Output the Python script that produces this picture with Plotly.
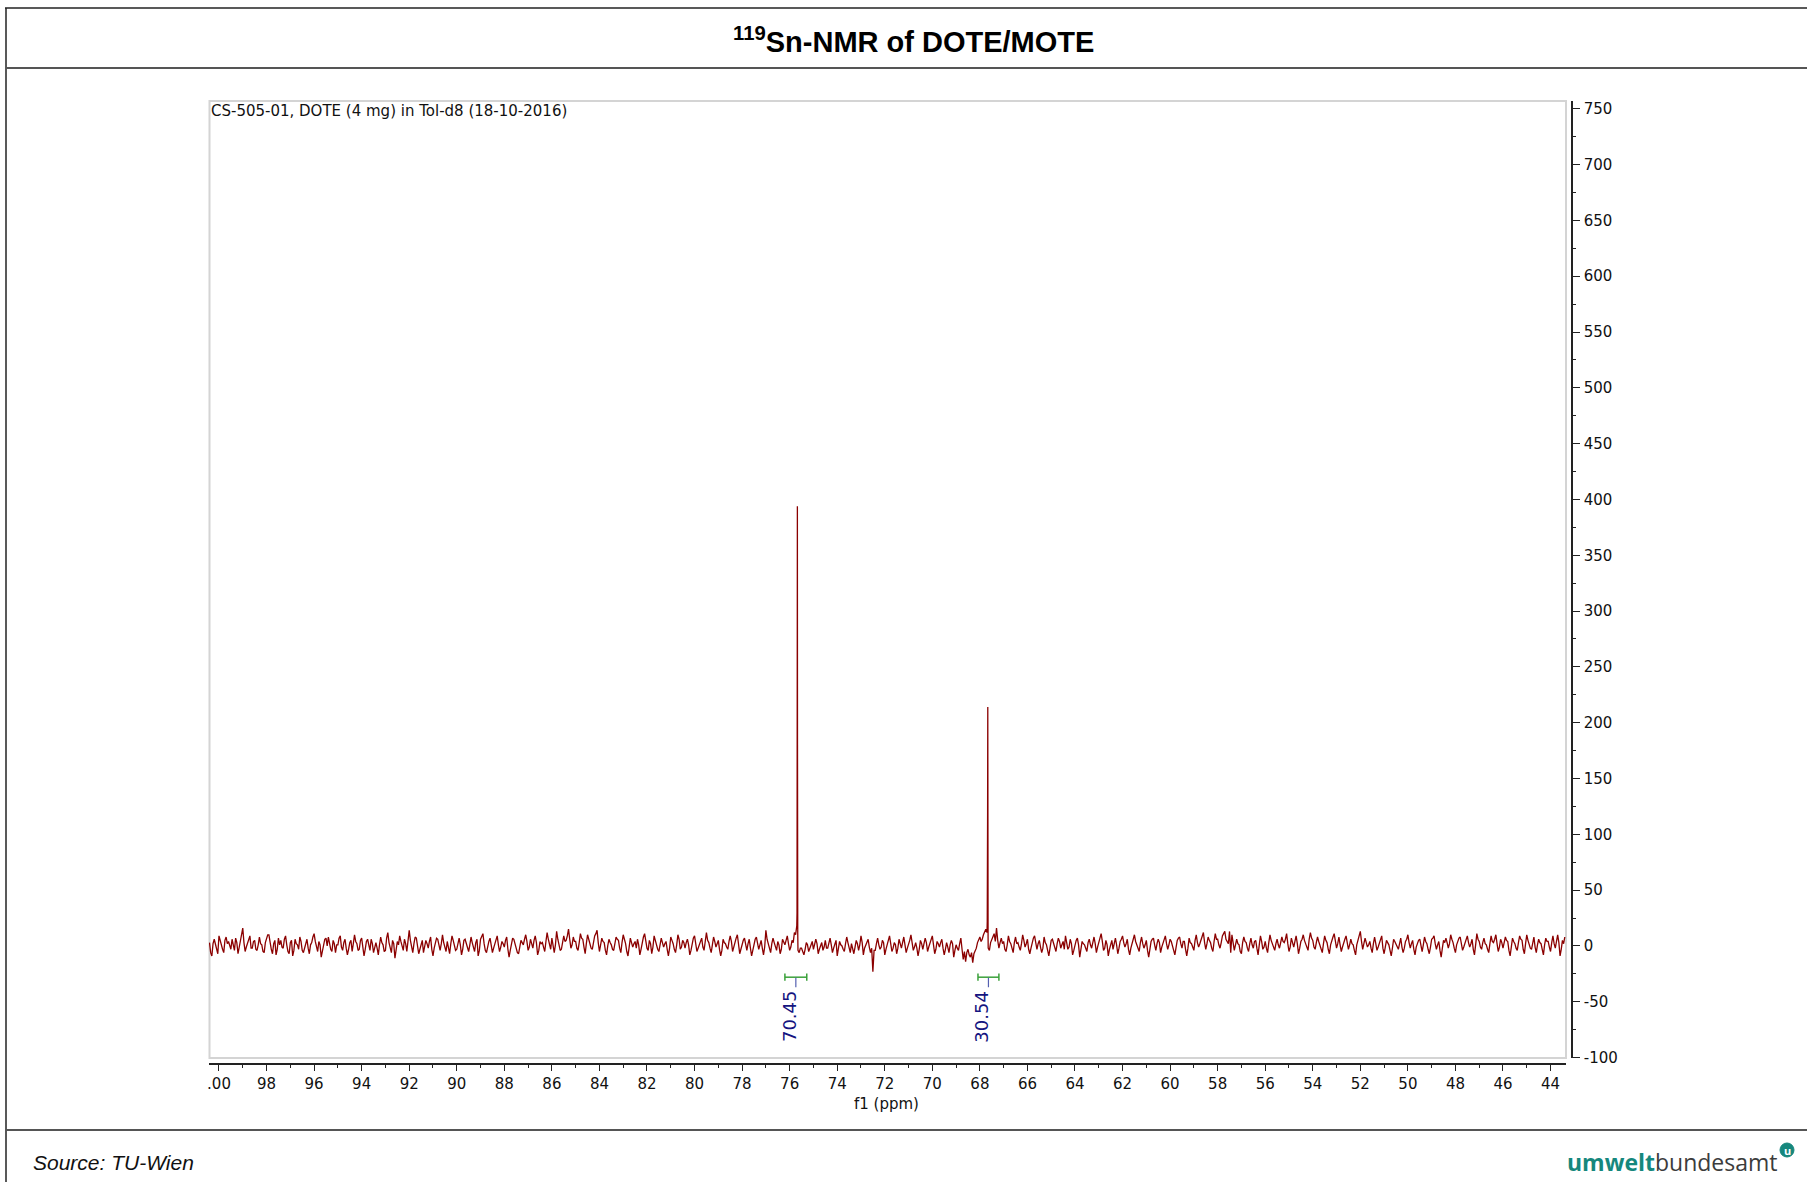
import numpy as np
import plotly.graph_objects as go

# ---------------- data ----------------
PPM_START = 100.4
PPM_STEP = 0.05
noise_rows = [
    [3, -6, -9, 2, 6, 1, -2, -7, 9, 4, 1, -3, -6, 5, 8, 2, 4, -1, -3, 6],
    [2, -4, 7, 3, -7, -2, 4, 9, 16, 3, -5, -1, 3, 6, 9, -2, -2, 4, 5, -3],
    [-4, 1, 8, 2, 1, -5, -6, 3, 6, 10, 10, 2, -3, -7, 2, 5, -8, -3, 7, 1],
    [5, -1, -2, 6, 9, 1, -5, -7, 3, 5, -9, -4, 6, 2, 1, -3, 8, 4, -4, -6],
    [-1, 3, 6, -2, -7, 1, 3, 8, 11, 4, -2, -5, 4, 1, -10, -4, 2, 6, 7, 0],
    [8, 2, -3, -5, 5, 2, -6, 1, 1, 7, 9, -1, -4, 3, 6, -2, -8, -3, 3, 5],
    [-5, 2, 10, 4, 2, -4, -3, 5, 7, -1, -9, -3, 4, 6, 0, -4, 6, 2, -6, -1],
    [3, -2, -8, 1, 8, 3, 1, -5, -4, 7, 12, 3, -2, -6, 5, 2, -11, -5, 4, 1],
    [9, 4, -1, -4, 6, 2, -5, 3, 14, 5, -3, -6, 2, 8, 7, -2, -7, -3, 1, 5],
    [-6, -1, 5, 2, -2, 4, 8, -3, -9, -2, 3, 7, 6, -1, -4, 2, 10, 3, -1, -5],
    [4, -3, -7, 2, 9, 5, 0, -4, -3, 3, 7, 1, -8, -3, 5, 6, 2, -2, -5, 1],
    [8, 3, -2, -5, 3, 6, -9, -4, 6, 8, 11, 2, -4, -6, 1, 4, 7, -1, -6, -2],
    [2, 6, 9, 1, -5, -1, 4, 2, -1, 5, 8, -3, -10, -4, 3, 7, 6, 1, -3, -6],
    [-7, -2, 5, 3, 1, 6, 10, 4, -4, -1, 6, 2, -2, 5, 9, 3, -8, -4, 4, 2],
    [3, -1, -5, 4, 12, 6, 2, -3, 7, 2, -6, 1, 13, 6, 1, -4, -3, 5, 9, 4],
    [5, 9, 15, 6, -2, 1, 8, 4, 4, -2, -4, 3, 11, 7, 6, -1, -7, 2, 10, 6],
    [2, -2, -3, 5, 9, 11, 14, 3, -5, 1, 7, 4, 3, -4, -8, 0, 6, 3, 1, -3],
    [-4, 2, 8, 6, 5, -2, -6, 3, 10, 6, 2, -5, -9, -1, 7, 3, -1, 2, 4, -2],
    [6, 1, -8, -3, 3, 8, 11, 4, -2, -4, 5, 2, -7, -1, 9, 5, 0, -3, -5, 2],
    [7, 3, -1, 2, 4, -3, -9, -2, 8, 5, 2, -3, -6, 1, 10, 6, -3, -1, 5, 3],
    [-2, 3, 6, 1, -8, -4, 3, 7, 9, 2, -5, -2, 1, 5, 7, -1, -4, 4, 12, 5],
    [3, -2, -6, 1, 8, 4, -1, 2, 5, -3, -9, -4, 6, 3, 2, -1, -3, 4, 9, 4],
    [-5, -1, 4, 7, 10, 3, -7, -3, 2, 5, 7, 1, -4, 2, 6, -2, -9, -4, 3, 6],
    [8, 2, -3, 1, 5, -2, -8, -1, 14, 6, 1, -3, -6, 2, 7, 3, -2, -4, 4, 1],
    [-7, -3, 6, 3, 1, 5, 9, 2, -4, -1, 5, 3, 12, 10, 18, -4, -6, -2, -2, -5],
    [-8, -3, 3, 1, -5, -2, 2, 4, -3, 1, 6, 2, -7, -3, 1, 3, -4, -1, 5, -2],
    [-2, 3, 7, 1, -6, -2, 3, 5, -9, -3, 4, 1, 0, -3, -5, 2, 8, 3, -3, -6],
    [2, -3, -7, -1, 5, 2, -4, 1, 9, 3, -8, -2, 1, 4, 6, -1, -6, -2, -23, -4],
    [-4, 2, 7, 1, -3, -1, 5, 3, -8, -3, 2, 4, 9, 2, -5, -2, 3, 1, -7, -2],
    [6, 2, -2, 3, 8, 1, -6, -2, 1, 5, 10, 3, -4, -1, 3, -2, -9, -3, 5, 2],
    [-3, 2, 7, 3, -5, -1, 2, 6, 9, 1, -7, -3, 4, 2, -1, 3, 6, -2, -8, -3],
    [3, -1, -6, 1, 5, 2, -10, -4, 1, -2, -4, 2, 7, -3, -12, -5, -14, -6, -3, -8],
    [-10, -6, -15, -7, -5, -2, 3, 5, 8, 4, 6, 10, 13, 15, 12, -2, -4, 3, 6, 9],
    [11, 4, 16, 5, -2, 3, 7, 2, 4, -3, -5, 1, 9, 4, 2, -2, -6, 3, 8, 2],
    [3, -1, -4, 2, 10, 5, -1, 2, 6, -3, -7, -2, 4, 7, 9, 1, -3, 2, 5, -1],
    [-6, -2, 8, 3, 1, -4, -9, -2, 5, 6, 3, -1, -5, 2, 7, 4, -2, 1, 4, -3],
    [9, 3, -3, -1, 6, 2, -8, -4, 2, 5, 7, 1, -10, -3, 4, 2, 1, -2, -5, 3],
    [6, 1, -2, 3, 8, 2, -6, -1, 3, 7, 11, 4, -4, -2, 5, 1, -9, -3, 2, 5],
    [-3, 2, 7, 1, -7, -2, 4, 6, 9, 3, -1, 2, 6, -3, -8, -2, 3, 5, 10, 4],
    [1, -2, -5, 3, 8, 2, -2, 1, 5, -4, -10, -3, 4, 6, 7, 1, -4, 2, 6, 3],
    [-6, -1, 3, 6, 9, 2, -3, 1, 6, 4, 1, -4, -8, -1, 5, 7, 8, 2, -2, 4],
    [4, -3, -9, -2, 7, 3, 2, -1, -4, 5, 10, 3, -1, 2, 6, 9, 12, 3, -3, 2],
    [8, 5, 3, -2, -5, 4, 11, 6, 6, 1, -2, 3, 9, 11, 13, 6, 4, 2, 13, -6],
    [10, 3, -4, 1, 6, 2, 1, -5, -7, 3, 8, 4, 3, -2, -5, 2, 7, 1, -2, 4],
    [5, -2, -8, 1, 9, 4, -3, -1, 4, -2, -6, 3, 10, 5, 2, -2, -4, 2, 6, 1],
    [-2, 3, 8, 4, 3, 6, 11, 2, -5, -1, 7, 3, -1, 4, 9, 2, -7, -2, 4, 6],
    [10, 5, 2, -2, -4, 6, 12, 7, 5, -1, -3, 3, 8, 4, 1, -3, -6, 2, 9, 5],
    [3, -3, -7, 1, 6, 8, 11, 3, -2, 2, 8, 1, -5, -1, 4, 6, 9, 2, -3, 1],
    [6, 2, 1, -4, -8, 1, 5, 9, 13, 4, -3, 2, 7, 3, -1, 1, 4, -2, -6, 2],
    [8, 2, -4, -1, 3, 5, 9, -2, -7, -1, 5, 3, 1, -4, -9, -2, 6, 4, 2, -1],
    [-3, 2, 7, -1, -6, -2, 4, 6, 10, 3, -2, 2, 5, -3, -8, -1, 3, 5, 6, -2],
    [-5, 1, 8, 4, 2, -3, -7, -1, 6, 7, 9, 2, -3, 1, 4, -4, -10, -2, 5, 3],
    [7, 3, -2, 2, 10, 6, 3, -2, -6, 1, 5, 7, 8, 2, -4, -1, 2, 4, 9, 3],
    [-1, 2, 6, -3, -8, 1, 11, 6, 4, -1, -3, 3, 7, 2, 1, -3, -6, 2, 9, 4],
    [3, 6, 10, 2, -5, -1, 6, 3, -2, 3, 8, 5, 4, -4, -9, -1, 7, 4, 2, -2],
    [-4, 3, 9, 6, 5, -3, -7, 2, 10, 5, 1, -2, -3, 4, 8, -1, -6, 1, 6, 3],
    [2, -3, -8, 1, 7, 4, 4, -1, -5, 3, 9, 2, -2, 4, 10, 3, -9, -3, 5, 2],
    [8],
]

peak1_ppm = [75.69, 75.68, 75.675, 75.67, 75.66]
peak1_int = [30, 200, 394, 180, 12]
peak2_ppm = [67.69, 67.675, 67.667, 67.66, 67.655]
peak2_int = [22, 120, 214, 110, 8]

integral_labels = ["70.45", "30.54"]
integral_from = [76.2, 68.08]
integral_to = [75.28, 67.2]
integral_level = -28

x_ticks = list(range(44, 101, 2))
x_ticktext = [".00" if v == 100 else str(v) for v in x_ticks]
y_ticks = list(range(-100, 751, 50))
y_ticktext = [str(v) for v in y_ticks]

# ---------------- build spectrum ----------------
noise = [v for row in noise_rows for v in row]
grid = np.round(PPM_START - PPM_STEP * np.arange(len(noise)), 4)
xs = np.concatenate([grid, peak1_ppm, peak2_ppm])
ys = np.concatenate([noise, peak1_int, peak2_int])
order = np.argsort(-xs, kind="stable")
xs, ys = xs[order], ys[order]

# ---------------- layout helpers (pixels -> paper) ----------------
L, RGT, T, B = 209, 1572, 101, 1064
W, H = RGT - L, B - T
def px(x):
    return (x - L) / W
def py(y):
    return (B - y) / H

fig = go.Figure()
fig.add_trace(go.Scatter(x=xs, y=ys, mode="lines",
                         line=dict(color="#8b0000", width=1.3),
                         hoverinfo="skip", showlegend=False))

tick_font = dict(family="DejaVu Sans", size=15, color="#111")

shapes = []
shapes.append(dict(type="line", xref="paper", yref="paper", x0=px(5), x1=px(1810), y0=py(8), y1=py(8),
                   line=dict(color="#222", width=1.5)))
shapes.append(dict(type="line", xref="paper", yref="paper", x0=px(6), x1=px(6), y0=py(8), y1=py(1185),
                   line=dict(color="#222", width=1.5)))
shapes.append(dict(type="line", xref="paper", yref="paper", x0=px(6), x1=px(1810), y0=py(68), y1=py(68),
                   line=dict(color="#555", width=2)))
shapes.append(dict(type="line", xref="paper", yref="paper", x0=px(6), x1=px(1810), y0=py(1130), y1=py(1130),
                   line=dict(color="#555", width=2)))
shapes.append(dict(type="rect", xref="paper", yref="paper", x0=px(209.5), x1=px(1566), y0=py(1058), y1=py(101),
                   line=dict(color="#d4d4d4", width=2), layer="below"))

annotations = []
for lab, a, b in zip(integral_labels, integral_from, integral_to):
    c = (a + b) / 2
    shapes.append(dict(type="line", xref="x", yref="y", x0=a, x1=b, y0=integral_level, y1=integral_level,
                       line=dict(color="#3aa13a", width=1.5)))
    for e in (a, b):
        shapes.append(dict(type="line", xref="x", yref="y", x0=e, x1=e,
                           y0=integral_level - 3.3, y1=integral_level + 3.3,
                           line=dict(color="#3aa13a", width=1.5)))
    shapes.append(dict(type="line", xref="x", yref="y", x0=c, x1=c,
                       y0=integral_level - 0.5, y1=integral_level - 9,
                       line=dict(color="#5560b0", width=1.2)))
    annotations.append(dict(x=c, y=integral_level, xref="x", yref="y", text=lab, showarrow=False,
                            textangle=-90, xshift=-7, yshift=-39,
                            font=dict(family="DejaVu Sans", size=18, color="#141480")))

annotations.append(dict(x=px(913), y=py(40), xref="paper", yref="paper",
                        text="<b><sup>119</sup>Sn-NMR of DOTE/MOTE</b>", showarrow=False,
                        xanchor="center", yanchor="middle",
                        font=dict(family="Liberation Sans", size=29, color="#000")))
annotations.append(dict(x=px(209), y=py(111), xref="paper", yref="paper",
                        text="CS-505-01, DOTE (4 mg) in Tol-d8 (18-10-2016)", showarrow=False,
                        xanchor="left", yanchor="middle",
                        font=dict(family="DejaVu Sans", size=15, color="#111")))
annotations.append(dict(x=px(886), y=py(1104), xref="paper", yref="paper",
                        text="f1 (ppm)", showarrow=False, xanchor="center", yanchor="middle",
                        font=dict(family="DejaVu Sans", size=15, color="#111")))
annotations.append(dict(x=px(31), y=py(1162), xref="paper", yref="paper",
                        text="<i>Source: TU-Wien</i>", showarrow=False, xanchor="left", yanchor="middle",
                        font=dict(family="Liberation Sans", size=21, color="#111")))
annotations.append(dict(x=px(1780), y=py(1162), xref="paper", yref="paper",
                        text="<span style='color:#16877d'><b>umwelt</b></span><span style='color:#3c3c3c'>bundesamt</span>",
                        showarrow=False, xanchor="right", yanchor="middle",
                        font=dict(family="Open Sans", size=23, color="#3c3c3c")))
shapes.append(dict(type="circle", xref="paper", yref="paper", x0=px(1780), x1=px(1794), y0=py(1157), y1=py(1143),
                   fillcolor="#16877d", line=dict(color="#16877d", width=1)))
annotations.append(dict(x=px(1787), y=py(1150), xref="paper", yref="paper", text="<b>u</b>", showarrow=False,
                        xanchor="center", yanchor="middle",
                        font=dict(family="Open Sans", size=11, color="#ffffff")))

fig.update_layout(
    width=1807, height=1182,
    margin=dict(l=L, r=1807 - RGT, t=T, b=1182 - B, pad=0),
    paper_bgcolor="white", plot_bgcolor="white",
    showlegend=False,
    shapes=shapes, annotations=annotations,
    xaxis=dict(domain=[0, px(1566)], range=[100.42, 43.35], anchor="free", position=0,
               showgrid=False, zeroline=False, showline=True, linecolor="#222", linewidth=1.5,
               ticks="outside", ticklen=6, tickwidth=1.2, tickcolor="#222",
               tickvals=x_ticks, ticktext=x_ticktext, tickfont=tick_font,
               minor=dict(dtick=1, tick0=0, ticks="outside", ticklen=3, tickwidth=1.2, tickcolor="#222")),
    yaxis=dict(domain=[py(1058), 1], range=[-100.4, 757.0], side="right", anchor="free", position=1,
               showgrid=False, zeroline=False, showline=True, linecolor="#222", linewidth=1.5,
               ticks="outside", ticklen=7, tickwidth=1.2, tickcolor="#222",
               tickvals=y_ticks, ticktext=y_ticktext, tickfont=tick_font,
               ticklabelstandoff=1,
               minor=dict(dtick=25, tick0=0, ticks="outside", ticklen=3, tickwidth=1.2, tickcolor="#222")),
)

fig.write_html("out.html")
